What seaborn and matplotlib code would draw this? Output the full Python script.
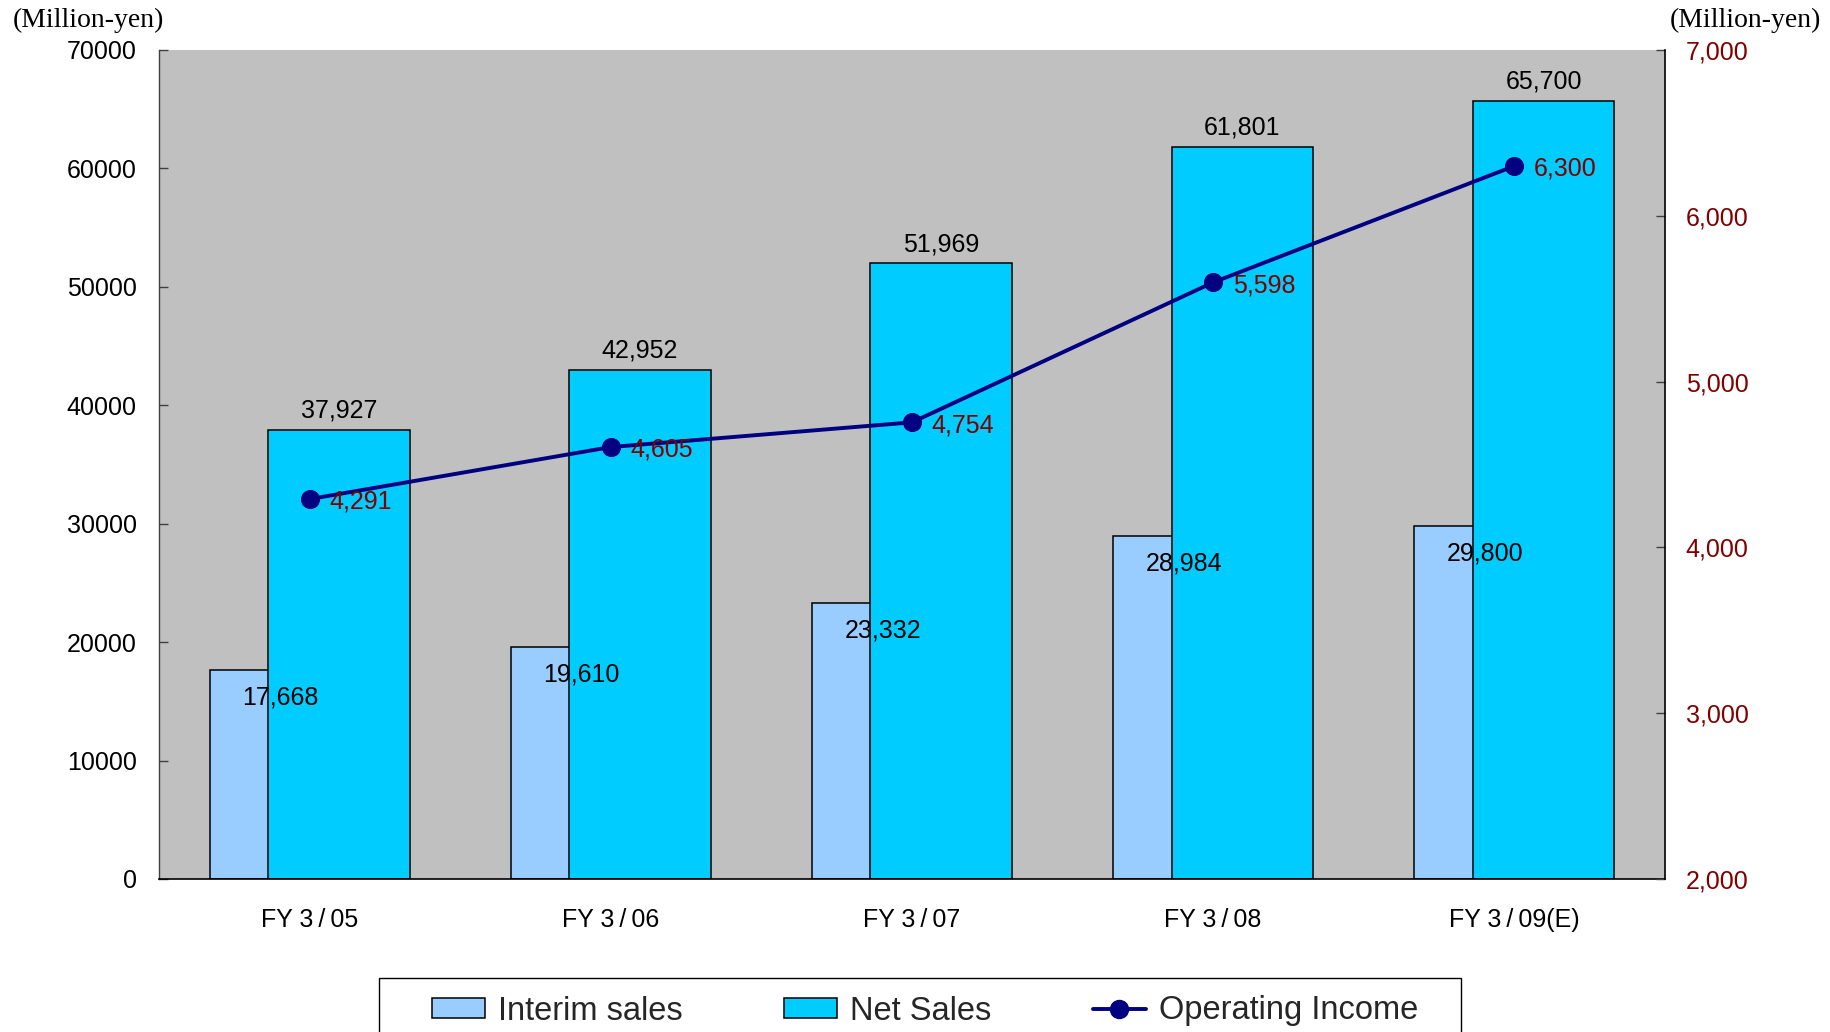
import numpy as np
import pandas as pd
import matplotlib
matplotlib.use("Agg")
import matplotlib.pyplot as plt
from matplotlib.patches import Patch, Rectangle
from matplotlib.lines import Line2D
from matplotlib.ticker import FuncFormatter, FixedLocator
import seaborn as sns

# Fiscal-year figures (million yen)
years = ["FY 3\u2009/\u200905", "FY 3\u2009/\u200906", "FY 3\u2009/\u200907",
         "FY 3\u2009/\u200908", "FY 3\u2009/\u200909(E)"]
interim_sales = [17668, 19610, 23332, 28984, 29800]
net_sales = [37927, 42952, 51969, 61801, 65700]
operating_income = [4291, 4605, 4754, 5598, 6300]

left_ticks = [0, 10000, 20000, 30000, 40000, 50000, 60000, 70000]
right_ticks = [2000, 3000, 4000, 5000, 6000, 7000]

INTERIM_COLOR = "#99CCFF"
NET_COLOR = "#00CCFF"
LINE_COLOR = "#000080"
INCOME_TEXT = "#800000"
PLOT_BG = "#C0C0C0"

sns.set_theme(style="white")
plt.rcParams["font.family"] = ["Liberation Sans", "DejaVu Sans"]

df = pd.DataFrame({
    "year": years,
    "pos": np.arange(len(years), dtype=float),
    "interim": interim_sales,
    "net": net_sales,
    "income": operating_income,
})

fig = plt.figure(figsize=(18.3, 10.32), dpi=100)
ax = fig.add_axes([0.0869, 0.1483, 0.9098 - 0.0869, 0.9516 - 0.1483])
ax.set_facecolor(PLOT_BG)

bar_width = 0.47
shift = 0.097

sns.barplot(x=df["pos"] - shift, y=df["interim"], native_scale=True, width=bar_width,
            color=INTERIM_COLOR, saturation=1, edgecolor="black", linewidth=1.1,
            errorbar=None, ax=ax)
sns.barplot(x=df["pos"] + shift, y=df["net"], native_scale=True, width=bar_width,
            color=NET_COLOR, saturation=1, edgecolor="black", linewidth=1.1,
            errorbar=None, ax=ax)

ax.set_xlim(-0.5, len(years) - 0.5)
ax.set_ylim(0, 70000)
ax.set_yticks(left_ticks)
ax.set_yticklabels([str(v) for v in left_ticks])
ax.set_xticks(df["pos"])
ax.set_xticklabels(years)
ax.xaxis.set_minor_locator(FixedLocator(np.arange(0.5, len(years) - 0.5, 1.0)))
ax.set_xlabel("")
ax.set_ylabel("")
ax.grid(False)

ax.tick_params(axis="x", which="major", length=0, pad=21, labelsize=18, colors="black")
ax.tick_params(axis="x", which="minor", direction="in", length=6.5, width=1, color="#404040")
ax.tick_params(axis="y", which="major", direction="in", length=6.5, width=1, color="#404040",
               left=True, pad=16, labelsize=18, labelcolor="black")

ax.spines["top"].set_visible(False)
ax.spines["left"].set_color("#404040")
ax.spines["left"].set_linewidth(1.0)
ax.spines["bottom"].set_color("black")
ax.spines["bottom"].set_linewidth(1.2)
ax.spines["right"].set_visible(False)

# value labels for the two sales series
for p, v in zip(df["pos"], df["net"]):
    ax.annotate(f"{v:,}", xy=(p + shift, v), xytext=(0, 14), textcoords="offset points",
                ha="center", va="center", fontsize=18, color="black")
for p, v in zip(df["pos"], df["interim"]):
    ax.annotate(f"{v:,}", xy=(p - shift, v), xytext=(0, -20), textcoords="offset points",
                ha="center", va="center", fontsize=18, color="black")

# operating income on the secondary axis
ax2 = ax.twinx()
sns.lineplot(x=df["pos"], y=df["income"], ax=ax2, color=LINE_COLOR, linewidth=2.8,
             marker="o", markersize=13, markeredgecolor=LINE_COLOR, legend=False)
ax2.set_ylim(2000, 7000)
ax2.set_yticks(right_ticks)
ax2.yaxis.set_major_formatter(FuncFormatter(lambda v, _: f"{int(v):,}"))
ax2.set_ylabel("")
ax2.set_xlabel("")
ax2.grid(False)
ax2.tick_params(axis="y", which="major", direction="in", length=6.5, width=1, color="#404040",
                right=True, pad=15, labelsize=18, labelcolor=INCOME_TEXT)
for side in ["top", "left", "bottom"]:
    ax2.spines[side].set_visible(False)
ax2.spines["right"].set_color("black")
ax2.spines["right"].set_linewidth(1.2)
ax2.set_xlim(-0.5, len(years) - 0.5)

for p, v in zip(df["pos"], df["income"]):
    ax2.annotate(f"{v:,}", xy=(p, v), xytext=(14, -2), textcoords="offset points",
                 ha="left", va="center", fontsize=18, color=INCOME_TEXT)

# unit captions
fig.text(13 / 1830, 1 - 20 / 1032, "(Million-yen)", ha="left", va="center",
         fontsize=20, family=["Liberation Serif", "DejaVu Serif"], color="black")
fig.text(1670 / 1830, 1 - 20 / 1032, "(Million-yen)", ha="left", va="center",
         fontsize=20, family=["Liberation Serif", "DejaVu Serif"], color="black")

# legend box along the bottom edge
fig.add_artist(Rectangle((379 / 1830, -0.03), (1461 - 379) / 1830, 0.03 + (1 - 978 / 1032),
                         transform=fig.transFigure, facecolor="white", edgecolor="black",
                         linewidth=1.0, zorder=1))
handles = [
    Patch(facecolor=INTERIM_COLOR, edgecolor="black", linewidth=1.1),
    Patch(facecolor=NET_COLOR, edgecolor="black", linewidth=1.1),
    Line2D([], [], color=LINE_COLOR, linewidth=2.8, marker="o", markersize=13,
           markeredgecolor=LINE_COLOR),
]
leg = fig.legend(handles, ["Interim sales", "Net Sales", "Operating Income"],
                 loc="center left", bbox_to_anchor=(432 / 1830, 1 - 1011 / 1032),
                 ncol=3, frameon=False, fontsize=23.5, borderpad=0, borderaxespad=0,
                 handlelength=1.63, handleheight=0.61, handletextpad=0.4,
                 columnspacing=3.1, numpoints=1)
leg.set_zorder(2)

fig.savefig("out.png", dpi=100)
